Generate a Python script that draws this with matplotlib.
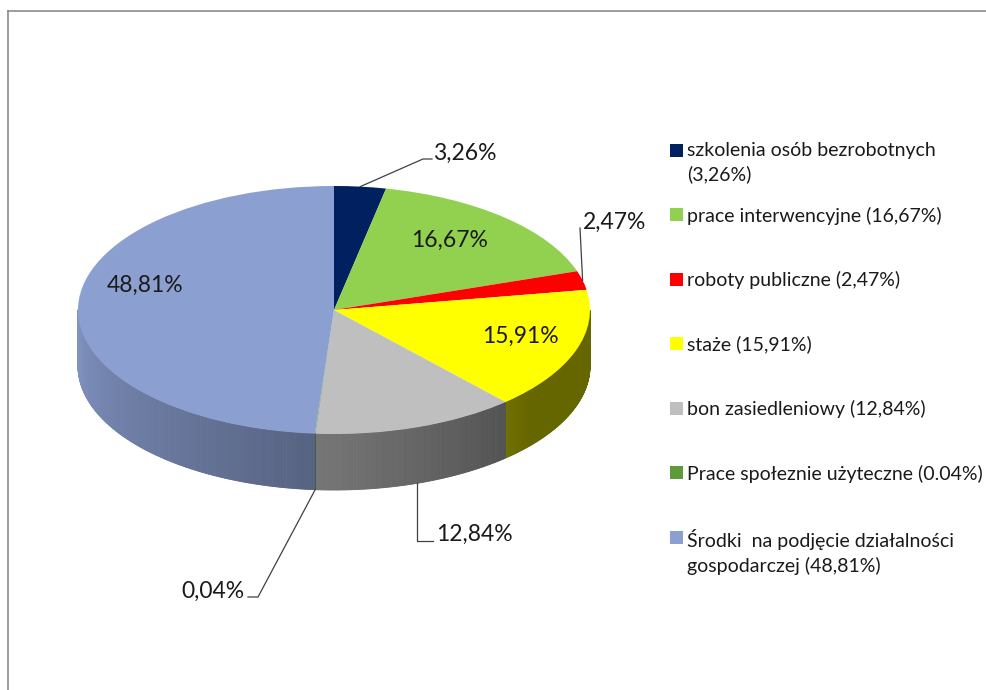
import numpy as np
import matplotlib
matplotlib.use("Agg")
import matplotlib.pyplot as plt
from matplotlib.collections import PolyCollection
from matplotlib.colors import to_rgb

plt.rcParams['font.family'] = ['Lato', 'DejaVu Sans']

# data
values = [3.26, 16.67, 2.47, 15.91, 12.84, 0.04, 48.81]
value_labels = ["3,26%", "16,67%", "2,47%", "15,91%", "12,84%", "0,04%", "48,81%"]
legend_labels = [
    "szkolenia osób bezrobotnych\n(3,26%)",
    "prace interwencyjne (16,67%)",
    "roboty publiczne (2,47%)",
    "staże (15,91%)",
    "bon zasiedleniowy (12,84%)",
    "Prace społeznie użyteczne (0.04%)",
    "Środki  na podjęcie działalności\ngospodarczej (48,81%)",
]
colors = ["#002060", "#92D050", "#FF0000", "#FFFF00", "#BFBFBF", "#5E9A3A", "#8B9FD1"]

W, H = 987, 690
CX, CY = 334, 310      # pie centre in pixels
RX, RY = 256, 124      # pie radii in pixels
DEPTH = 56 / RY        # side height in data units

fig = plt.figure(figsize=(W / 100, H / 100), dpi=100)
ax = fig.add_axes([0, 0, 1, 1])


def to_data(px, py):
    return (px - CX) / RX, (CY - py) / RY


# top face
wedges, _ = ax.pie(values, colors=colors, startangle=90, counterclock=False,
                   radius=1, center=(0, 0), wedgeprops=dict(linewidth=0))
for w in wedges:
    w.set_zorder(3)

ax.set_aspect('auto')
ax.set_xlim(-CX / RX, (W - CX) / RX)
ax.set_ylim(-(H - CY) / RY, CY / RY)
ax.axis('off')

# side of the cylinder (front half only), shaded by facing direction
frac = np.array(values) / sum(values)
bounds = 90 - 360 * np.concatenate([[0], np.cumsum(frac)])
polys, fcs = [], []
for i, c in enumerate(colors):
    a0, a1 = bounds[i], bounds[i + 1]
    n = max(2, int(abs(a0 - a1) * 3))
    ang = np.linspace(a0, a1, n)
    base = np.array(to_rgb(c))
    for t0, t1 in zip(ang[:-1], ang[1:]):
        tm = (0.5 * (t0 + t1)) % 360
        if tm < 180:
            continue
        shade = np.interp(tm, [180, 270, 320, 360], [0.93, 0.6, 0.4, 0.4])
        r0, r1 = np.radians(t0), np.radians(t1)
        x0, y0 = np.cos(r0), np.sin(r0)
        x1, y1 = np.cos(r1), np.sin(r1)
        polys.append([(x0, y0), (x1, y1), (x1, y1 - DEPTH), (x0, y0 - DEPTH)])
        fcs.append(tuple(base * shade))
side = PolyCollection(polys, facecolors=fcs, edgecolors=fcs, linewidths=0.6, zorder=1)
ax.add_collection(side)

# data labels
mid = np.radians((bounds[:-1] + bounds[1:]) / 2)
lab_kw = dict(fontsize=16.5, color='#1a1a1a')
line_kw = dict(color='#404040', lw=0.9, zorder=4)


def edge_point(i, bottom=False):
    x, y = np.cos(mid[i]), np.sin(mid[i])
    return (x, y - DEPTH) if bottom else (x, y)


# 3,26%
s = edge_point(0)
e1, e2 = to_data(423, 159), to_data(432, 159)
ax.plot([s[0], e1[0], e2[0]], [s[1], e1[1], e2[1]], **line_kw)
ax.text(*to_data(433, 160), value_labels[0], ha='left', va='baseline', **lab_kw)
# 2,47%
s = edge_point(2)
e1 = to_data(580, 228)
ax.plot([s[0], e1[0]], [s[1], e1[1]], **line_kw)
ax.text(*to_data(583, 229), value_labels[2], ha='left', va='baseline', **lab_kw)
# 12,84%
s = edge_point(4, bottom=True)
e1, e2 = (s[0], to_data(0, 541)[1]), to_data(433, 541)
ax.plot([s[0], e1[0], e2[0]], [s[1], e1[1], e2[1]], **line_kw)
ax.text(*to_data(436, 541), value_labels[4], ha='left', va='baseline', **lab_kw)
# 0,04%
s = edge_point(5, bottom=True)
e1, e2 = to_data(258, 597), to_data(248, 597)
ax.plot([s[0], e1[0], e2[0]], [s[1], e1[1], e2[1]], **line_kw)
ax.text(*to_data(245, 598), value_labels[5], ha='right', va='baseline', **lab_kw)
# inside labels
for i, (px, py) in zip([1, 3, 6], [(450, 240), (520, 336), (145, 285)]):
    ax.text(*to_data(px, py), value_labels[i], ha='center', va='center', zorder=5, **lab_kw)

# legend
for i, (lab, c) in enumerate(zip(legend_labels, colors)):
    ytop = 150 + i * 64.5
    ax.add_patch(plt.Rectangle(to_data(670, ytop + 6.5), 13 / RX, 13 / RY,
                               facecolor=c, edgecolor='none', zorder=5))
    ax.text(*to_data(687, ytop - 8), lab, ha='left', va='top', fontsize=14,
            color='#1a1a1a', linespacing=1.45)

# chart frame (only top and left edges are visible)
ax.plot([to_data(8, 0)[0], to_data(W + 5, 0)[0]], [to_data(0, 11)[1]] * 2,
        color='#8c8c8c', lw=1.2, clip_on=False)
ax.plot([to_data(8, 0)[0]] * 2, [to_data(0, 11)[1], to_data(0, H + 5)[1]],
        color='#8c8c8c', lw=1.2, clip_on=False)

fig.savefig("out.png", dpi=100, facecolor='white')
